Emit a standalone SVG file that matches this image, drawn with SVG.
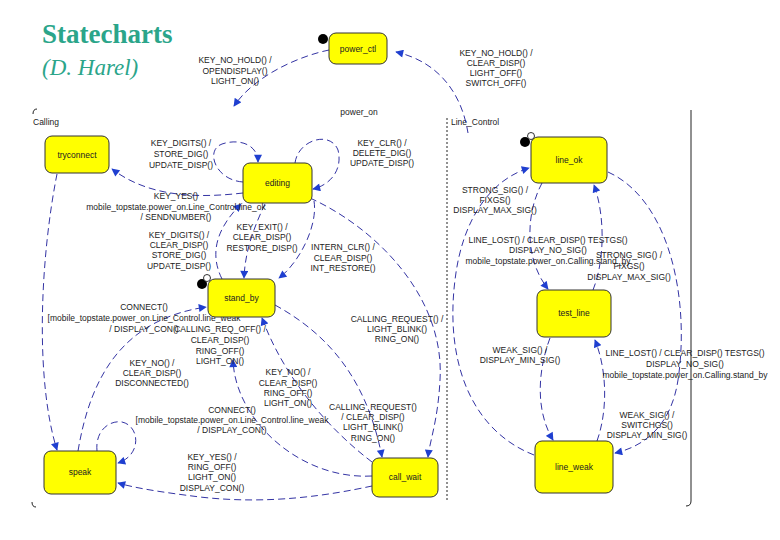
<svg xmlns="http://www.w3.org/2000/svg" width="780" height="540" viewBox="0 0 780 540">
<defs>
<marker id="ah" viewBox="0 0 10 10" refX="9" refY="5" markerWidth="9" markerHeight="8" markerUnits="userSpaceOnUse" orient="auto"><path d="M0,0 L10,5 L0,10 z" fill="#1f3fd0"/></marker>
</defs>
<style>
.st rect{fill:#ffff00;stroke:#333;stroke-width:1}
.st text{font-family:"Liberation Sans",Arial,sans-serif;font-size:8.5px;fill:#222;text-anchor:middle}
.lb{font-family:"Liberation Sans",Arial,sans-serif;font-size:8.5px;fill:#222;text-anchor:middle}
.rl{font-family:"Liberation Sans",Arial,sans-serif;font-size:8.5px;fill:#222}
.cn path{fill:none;stroke:#1c1c99;stroke-width:0.9;stroke-dasharray:7 4;marker-end:url(#ah)}
.ttl{font-family:"Liberation Serif","Times New Roman",serif;fill:#2ba58a}
</style>
<rect width="780" height="540" fill="#fff"/>
<text class="ttl" x="42" y="43" font-size="27" font-weight="bold">Statecharts</text>
<text class="ttl" x="42" y="75" font-size="23" font-style="italic">(D. Harel)</text>

<g id="frames" fill="none" stroke="#222" stroke-width="1">
<line x1="691" y1="110" x2="691" y2="501"/>
<path d="M691,501 Q691,506 686,506"/>
<line x1="447" y1="118" x2="447" y2="502" stroke-dasharray="2 2"/>
<path d="M33,114 Q33,109 37,109"/>
<path d="M32,502 Q32,507 36,507"/>
</g>
<text class="rl" x="33" y="125">Calling</text>
<text class="rl" x="451" y="125">Line_Control</text>
<text class="lb" x="359" y="115">power_on</text>

<g class="cn" id="connectors">
<path d="M329,50 C300,56 255,75 234,106"/>
<path d="M468,133 C462,95 440,62 396,52"/>
<path d="M243,182 C215,180 205,150 222,144 C240,138 258,145 258,162"/>
<path d="M295,163 C298,140 330,130 338,150 C343,170 330,185 313,189"/>
<path d="M243,193 C200,198 150,198 112,169"/>
<path d="M222,279 C210,255 215,230 241,204"/>
<path d="M265,204 C255,225 245,250 244,278"/>
<path d="M314,201 C318,225 300,262 279,278"/>
<path d="M310,198 C380,230 445,300 440,380 C438,420 430,440 428,457"/>
<path d="M275,305 C320,330 365,370 382,457"/>
<path d="M372,462 C330,430 285,380 262,318"/>
<path d="M372,476 C300,480 235,420 233,360"/>
<path d="M372,486 C330,495 270,505 200,497 C160,492 135,488 118,483"/>
<path d="M57,174 C40,260 35,380 57,450"/>
<path d="M78,451 C90,380 120,320 206,307"/>
<path d="M97,451 C95,430 110,420 122,422 C140,426 142,455 118,463"/>
<path d="M542,183 C525,215 525,260 548,289"/>
<path d="M593,290 C605,260 605,215 594,185"/>
<path d="M608,172 C670,200 690,300 678,380 C672,420 650,445 615,453"/>
<path d="M534,455 C470,430 445,360 455,280 C462,220 490,180 529,168"/>
<path d="M550,338 C538,370 535,410 553,440"/>
<path d="M597,441 C608,410 607,370 595,340"/>
</g>

<g id="labels">
<text class="lb"><tspan x="235" y="63">KEY_NO_HOLD() /</tspan><tspan x="235" y="74">OPENDISPLAY()</tspan><tspan x="235" y="84">LIGHT_ON()</tspan></text>
<text class="lb"><tspan x="496" y="56">KEY_NO_HOLD() /</tspan><tspan x="496" y="66">CLEAR_DISP()</tspan><tspan x="496" y="76">LIGHT_OFF()</tspan><tspan x="496" y="86">SWITCH_OFF()</tspan></text>
<text class="lb"><tspan x="181" y="146">KEY_DIGITS() /</tspan><tspan x="181" y="157">STORE_DIG()</tspan><tspan x="181" y="168">UPDATE_DISP()</tspan></text>
<text class="lb"><tspan x="382" y="146">KEY_CLR() /</tspan><tspan x="382" y="156">DELETE_DIG()</tspan><tspan x="382" y="166">UPDATE_DISP()</tspan></text>
<text class="lb"><tspan x="176" y="199">KEY_YES()</tspan><tspan x="176" y="210">mobile_topstate.power_on.Line_Control.line_ok</tspan><tspan x="176" y="220">/ SENDNUMBER()</tspan></text>
<text class="lb"><tspan x="179" y="238">KEY_DIGITS() /</tspan><tspan x="179" y="248">CLEAR_DISP()</tspan><tspan x="179" y="258">STORE_DIG()</tspan><tspan x="179" y="269">UPDATE_DISP()</tspan></text>
<text class="lb"><tspan x="262" y="230">KEY_EXIT() /</tspan><tspan x="262" y="240">CLEAR_DISP()</tspan><tspan x="262" y="251">RESTORE_DISP()</tspan></text>
<text class="lb"><tspan x="343" y="250">INTERN_CLR() /</tspan><tspan x="343" y="261">CLEAR_DISP()</tspan><tspan x="343" y="271">INT_RESTORE()</tspan></text>
<text class="lb"><tspan x="495" y="193">STRONG_SIG() /</tspan><tspan x="495" y="203">FIXGS()</tspan><tspan x="495" y="213">DISPLAY_MAX_SIG()</tspan></text>
<text class="lb"><tspan x="548" y="243">LINE_LOST() / CLEAR_DISP() TESTGS()</tspan><tspan x="548" y="253">DISPLAY_NO_SIG()</tspan><tspan x="548" y="264">mobile_topstate.power_on.Calling.stand_by</tspan></text>
<text class="lb"><tspan x="629" y="258">STRONG_SIG() /</tspan><tspan x="629" y="269">FIXGS()</tspan><tspan x="629" y="280">DISPLAY_MAX_SIG()</tspan></text>
<text class="lb"><tspan x="520" y="353">WEAK_SIG() /</tspan><tspan x="520" y="363">DISPLAY_MIN_SIG()</tspan></text>
<text class="lb"><tspan x="685" y="356">LINE_LOST() / CLEAR_DISP() TESTGS()</tspan><tspan x="685" y="367">DISPLAY_NO_SIG()</tspan><tspan x="685" y="378">mobile_topstate.power_on.Calling.stand_by</tspan></text>
<text class="lb"><tspan x="647" y="418">WEAK_SIG() /</tspan><tspan x="647" y="428">SWITCHGS()</tspan><tspan x="647" y="438">DISPLAY_MIN_SIG()</tspan></text>
<text class="lb"><tspan x="144" y="310">CONNECT()</tspan><tspan x="144" y="321">[mobile_topstate.power_on.Line_Control.line_weak</tspan><tspan x="144" y="332">/ DISPLAY_CON()</tspan></text>
<text class="lb"><tspan x="220" y="332">CALLING_REQ_OFF() /</tspan><tspan x="220" y="343">CLEAR_DISP()</tspan><tspan x="220" y="354">RING_OFF()</tspan><tspan x="220" y="364">LIGHT_ON()</tspan></text>
<text class="lb"><tspan x="152" y="366">KEY_NO() /</tspan><tspan x="152" y="376">CLEAR_DISP()</tspan><tspan x="152" y="386">DISCONNECTED()</tspan></text>
<text class="lb"><tspan x="288" y="375">KEY_NO() /</tspan><tspan x="288" y="386">CLEAR_DISP()</tspan><tspan x="288" y="396">RING_OFF()</tspan><tspan x="288" y="406">LIGHT_ON()</tspan></text>
<text class="lb"><tspan x="232" y="413">CONNECT()</tspan><tspan x="232" y="423">[mobile_topstate.power_on.Line_Control.line_weak</tspan><tspan x="232" y="433">/ DISPLAY_CON()</tspan></text>
<text class="lb"><tspan x="373" y="410">CALLING_REQUEST()</tspan><tspan x="373" y="420">/ CLEAR_DISP()</tspan><tspan x="373" y="430">LIGHT_BLINK()</tspan><tspan x="373" y="441">RING_ON()</tspan></text>
<text class="lb"><tspan x="397" y="322">CALLING_REQUEST() /</tspan><tspan x="397" y="332">LIGHT_BLINK()</tspan><tspan x="397" y="342">RING_ON()</tspan></text>
<text class="lb"><tspan x="212" y="460">KEY_YES() /</tspan><tspan x="212" y="470">RING_OFF()</tspan><tspan x="212" y="480">LIGHT_ON()</tspan><tspan x="212" y="491">DISPLAY_CON()</tspan></text>
</g>

<g id="initials">
<circle cx="323" cy="39" r="5" fill="#000"/>
<circle cx="202" cy="284" r="5" fill="#000"/>
<circle cx="207" cy="278" r="3.5" fill="#fff" stroke="#000" stroke-width="0.8"/>
<circle cx="525" cy="142" r="5" fill="#000"/>
<circle cx="531" cy="136" r="3.5" fill="#fff" stroke="#000" stroke-width="0.8"/>
</g>

<g id="power_ctl" class="st"><rect x="329" y="33" width="58" height="31" rx="7"/><text x="358" y="52">power_ctl</text></g>
<g id="tryconnect" class="st"><rect x="45" y="136" width="64" height="37" rx="7"/><text x="77" y="158">tryconnect</text></g>
<g id="editing" class="st"><rect x="243" y="163" width="69" height="40" rx="7"/><text x="277.5" y="186">editing</text></g>
<g id="stand_by" class="st"><rect x="208" y="279" width="67" height="38" rx="7"/><text x="241.5" y="301">stand_by</text></g>
<g id="line_ok" class="st"><rect x="531" y="137" width="76" height="46" rx="7"/><text x="569" y="163">line_ok</text></g>
<g id="test_line" class="st"><rect x="537" y="290" width="74" height="47" rx="7"/><text x="574" y="316">test_line</text></g>
<g id="speak" class="st"><rect x="44" y="451" width="72" height="43" rx="7"/><text x="80" y="475">speak</text></g>
<g id="call_wait" class="st"><rect x="372" y="458" width="66" height="39" rx="7"/><text x="405" y="480">call_wait</text></g>
<g id="line_weak" class="st"><rect x="535" y="441" width="78" height="52" rx="7"/><text x="574" y="470">line_weak</text></g>
</svg>
